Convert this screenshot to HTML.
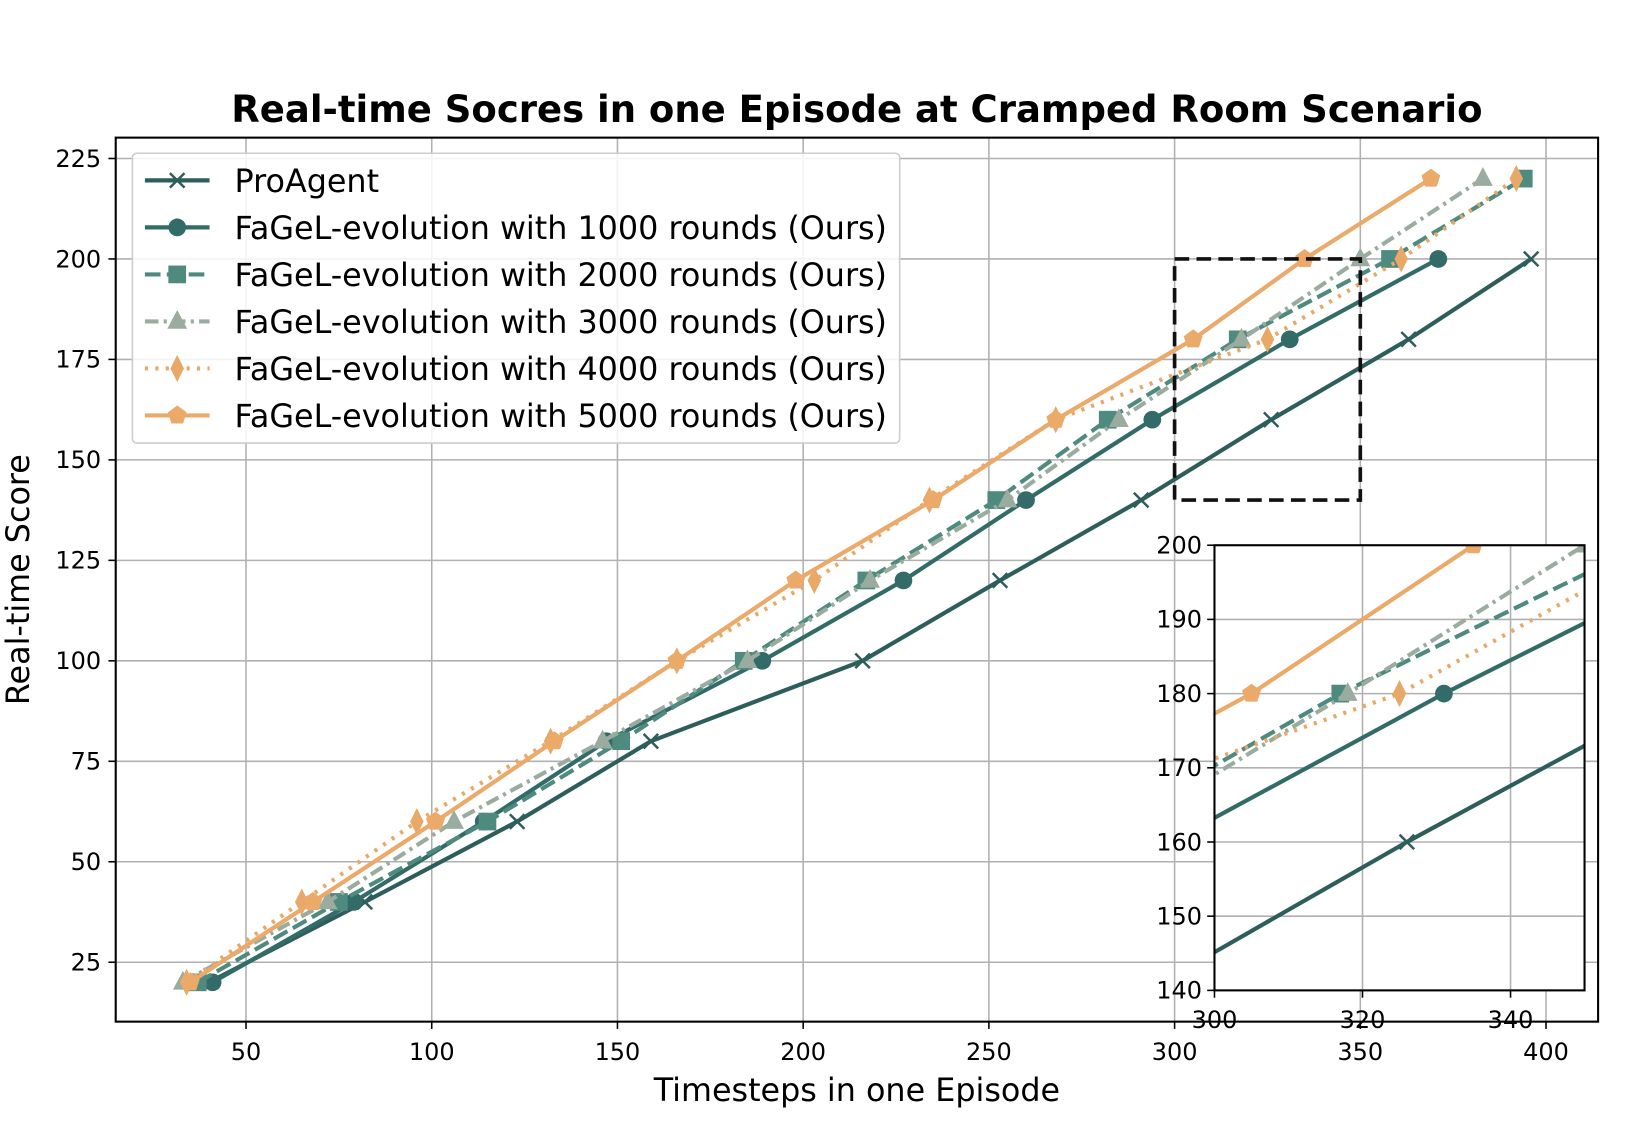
<!DOCTYPE html>
<html><head><meta charset="utf-8"><style>
html,body{margin:0;padding:0;background:#fff;overflow:hidden;width:1635px;height:1145px;}
svg{display:block;font-family:"DejaVu Sans","Liberation Sans",sans-serif;}
</style></head><body>
<svg id="chart" width="1635" height="1145" viewBox="0 0 1568.4 1098.3" xmlns="http://www.w3.org/2000/svg"></svg>
<script>
const seriesNames=["ProAgent","FaGeL-evolution with 1000 rounds (Ours)","FaGeL-evolution with 2000 rounds (Ours)","FaGeL-evolution with 3000 rounds (Ours)","FaGeL-evolution with 4000 rounds (Ours)","FaGeL-evolution with 5000 rounds (Ours)"];
const proT=[40,82,123,159,216,253,291,326,363,396];
const proS=[20,40,60,80,100,120,140,160,180,200];
const r1T=[41,79,114,147,189,227,260,294,331,371];
const r1S=[20,40,60,80,100,120,140,160,180,200];
const r2T=[37,75,115,151,184,217,252,282,317,358,394];
const r2S=[20,40,60,80,100,120,140,160,180,200,220];
const r3T=[33,72,106,146,185,218,255,285,318,350,383];
const r3S=[20,40,60,80,100,120,140,160,180,200,220];
const r4T=[34,65,96,132,166,203,234,268,325,361,392];
const r4S=[20,40,60,80,100,120,140,160,180,200,220];
const r5T=[35,68,101,133,166,198,235,268,305,335,369];
const r5S=[20,40,60,80,100,120,140,160,180,200,220];
const xTicks=[50,100,150,200,250,300,350,400];
const yTicks=[25,50,75,100,125,150,175,200,225];
const insetXTicks=[300,320,340];
const insetYTicks=[140,150,160,170,180,190,200];

const NS="http://www.w3.org/2000/svg";
const svg=document.getElementById('chart');
function el(tag,attrs,parent,text){const e=document.createElementNS(NS,tag);for(const k in attrs)e.setAttribute(k,attrs[k]);if(text!==undefined)e.textContent=text;(parent||svg).appendChild(e);return e;}

const X=v=>236+(v-50)*3.563, Y=v=>923-(v-25)*3.855;
const IX=v=>1165+(v-300)*7.1, IY=v=>950-(v-140)*7.117;
const styles=[
 {c:"#2e5e5c",d:"",m:"x",w:4},
 {c:"#336b68",d:"",m:"o",w:4},
 {c:"#4e8a7e",d:"15,6",m:"s",w:4},
 {c:"#9aab9f",d:"13,5,3,5",m:"^",w:4},
 {c:"#e8a868",d:"3,7",m:"d",w:4},
 {c:"#eba96a",d:"",m:"p",w:4}];
const data=[[proT,proS],[r1T,r1S],[r2T,r2S],[r3T,r3S],[r4T,r4S],[r5T,r5S]];

function marker(m,x,y,c,g,s){s=s||1;
 if(m==="x"){return el('path',{d:`M${x-7*s},${y-7*s}L${x+7*s},${y+7*s}M${x-7*s},${y+7*s}L${x+7*s},${y-7*s}`,stroke:c,'stroke-width':2.4,fill:'none'},g);}
 if(m==="o")return el('circle',{cx:x,cy:y,r:8.5*s,fill:c},g);
 if(m==="s")return el('rect',{x:x-8.5*s,y:y-8.5*s,width:17*s,height:17*s,fill:c},g);
 if(m==="^")return el('path',{d:`M${x},${y-11*s}L${x+9.5*s},${y+7*s}L${x-9.5*s},${y+7*s}Z`,fill:c},g);
 if(m==="d")return el('path',{d:`M${x},${y-13*s}L${x+6.5*s},${y}L${x},${y+13*s}L${x-6.5*s},${y}Z`,fill:c},g);
 if(m==="p"){let d="";for(let i=0;i<5;i++){const a=-Math.PI/2+i*2*Math.PI/5;d+=(i?"L":"M")+(x+9.5*s*Math.cos(a))+","+(y+9.5*s*Math.sin(a));}return el('path',{d:d+"Z",fill:c},g);}
}

el('text',{x:822,y:117,'text-anchor':'middle','font-size':35.5,'font-weight':'bold',fill:'#000',},svg,"Real-time Socres in one Episode at Cramped Room Scenario");

const grid=el('g',{});
xTicks.forEach(t=>el('line',{x1:X(t),x2:X(t),y1:132,y2:980,stroke:'#b0b0b0','stroke-width':1.5},grid));
yTicks.forEach(t=>el('line',{x1:111,x2:1533,y1:Y(t),y2:Y(t),stroke:'#b0b0b0','stroke-width':1.5},grid));

const xa=el('g',{});
xTicks.forEach(t=>{el('line',{x1:X(t),x2:X(t),y1:980,y2:987,stroke:'#000','stroke-width':1.5},xa);el('text',{x:X(t),y:1017,'text-anchor':'middle','font-size':23},xa,String(t));});
const ya=el('g',{});
yTicks.forEach(t=>{el('line',{x1:104,x2:111,y1:Y(t),y2:Y(t),stroke:'#000','stroke-width':1.5},ya);el('text',{x:97,y:Y(t)+8,'text-anchor':'end','font-size':23},ya,String(t));});
el('text',{x:822,y:1056,'text-anchor':'middle','font-size':30.5,},svg,"Timesteps in one Episode");
el('text',{x:0,y:0,transform:'translate(28,556) rotate(-90)','text-anchor':'middle','font-size':30.5,},svg,"Real-time Score");

const defs=el('defs',{});
const cp=el('clipPath',{id:'mainclip'},defs);el('rect',{x:111,y:132,width:1422,height:848},cp);
const cp2=el('clipPath',{id:'insclip'},defs);el('rect',{x:1165,y:523,width:355,height:427},cp2);

function drawSeries(parent,fx,fy,i,clip,ms){
 const st=styles[i],[T,S]=data[i];
 const g=el('g',{'clip-path':`url(#${clip})`},parent);
 
 
 el('polyline',{points:T.map((t,k)=>fx(t)+","+fy(S[k])).join(" "),fill:'none',stroke:st.c,'stroke-width':st.w,'stroke-dasharray':st.d},g);
 T.forEach((t,k)=>{const m=marker(st.m,fx(t),fy(S[k]),st.c,g,ms);});
}
for(let i=0;i<6;i++)drawSeries(svg,X,Y,i,'mainclip',1);

el('rect',{x:111,y:132,width:1422,height:848,fill:'none',stroke:'#000','stroke-width':2,});

el('rect',{x:X(300),y:Y(200),width:X(350)-X(300),height:Y(140)-Y(200),fill:'none',stroke:'#111','stroke-width':3.5,'stroke-dasharray':'14,7',});

const lg=el('g',{});
el('rect',{x:127,y:147,width:736,height:278,rx:4,fill:'#fff','fill-opacity':0.85,stroke:'#ccc','stroke-width':1.5},lg);
seriesNames.forEach((n,i)=>{const y=173+i*45.1,st=styles[i];
 const e=el('g',{},lg);
 
 
 el('line',{x1:139,x2:201,y1:y,y2:y,stroke:st.c,'stroke-width':st.w,'stroke-dasharray':st.d},e);
 marker(st.m,170,y,st.c,e,1);
 el('text',{x:225,y:y+11,'font-size':30.5,fill:'#000'},e,n);
});

const ins=el('g',{});
el('rect',{x:1165,y:523,width:355,height:427,fill:'#fff'},ins);
insetXTicks.forEach(t=>el('line',{x1:IX(t),x2:IX(t),y1:523,y2:950,stroke:'#b0b0b0','stroke-width':1.5},ins));
insetYTicks.forEach(t=>el('line',{x1:1165,x2:1520,y1:IY(t),y2:IY(t),stroke:'#b0b0b0','stroke-width':1.5},ins));
for(let i=0;i<6;i++)drawSeries(ins,IX,IY,i,'insclip',1);
el('rect',{x:1165,y:523,width:355,height:427,fill:'none',stroke:'#000','stroke-width':2},ins);
insetXTicks.forEach(t=>{el('line',{x1:IX(t),x2:IX(t),y1:950,y2:957,stroke:'#000','stroke-width':1.5},ins);el('text',{x:IX(t),y:986,'text-anchor':'middle','font-size':23},ins,String(t));});
insetYTicks.forEach(t=>{el('line',{x1:1158,x2:1165,y1:IY(t),y2:IY(t),stroke:'#000','stroke-width':1.5},ins);el('text',{x:1153,y:IY(t)+8,'text-anchor':'end','font-size':23},ins,String(t));});
</script>
</body></html>
